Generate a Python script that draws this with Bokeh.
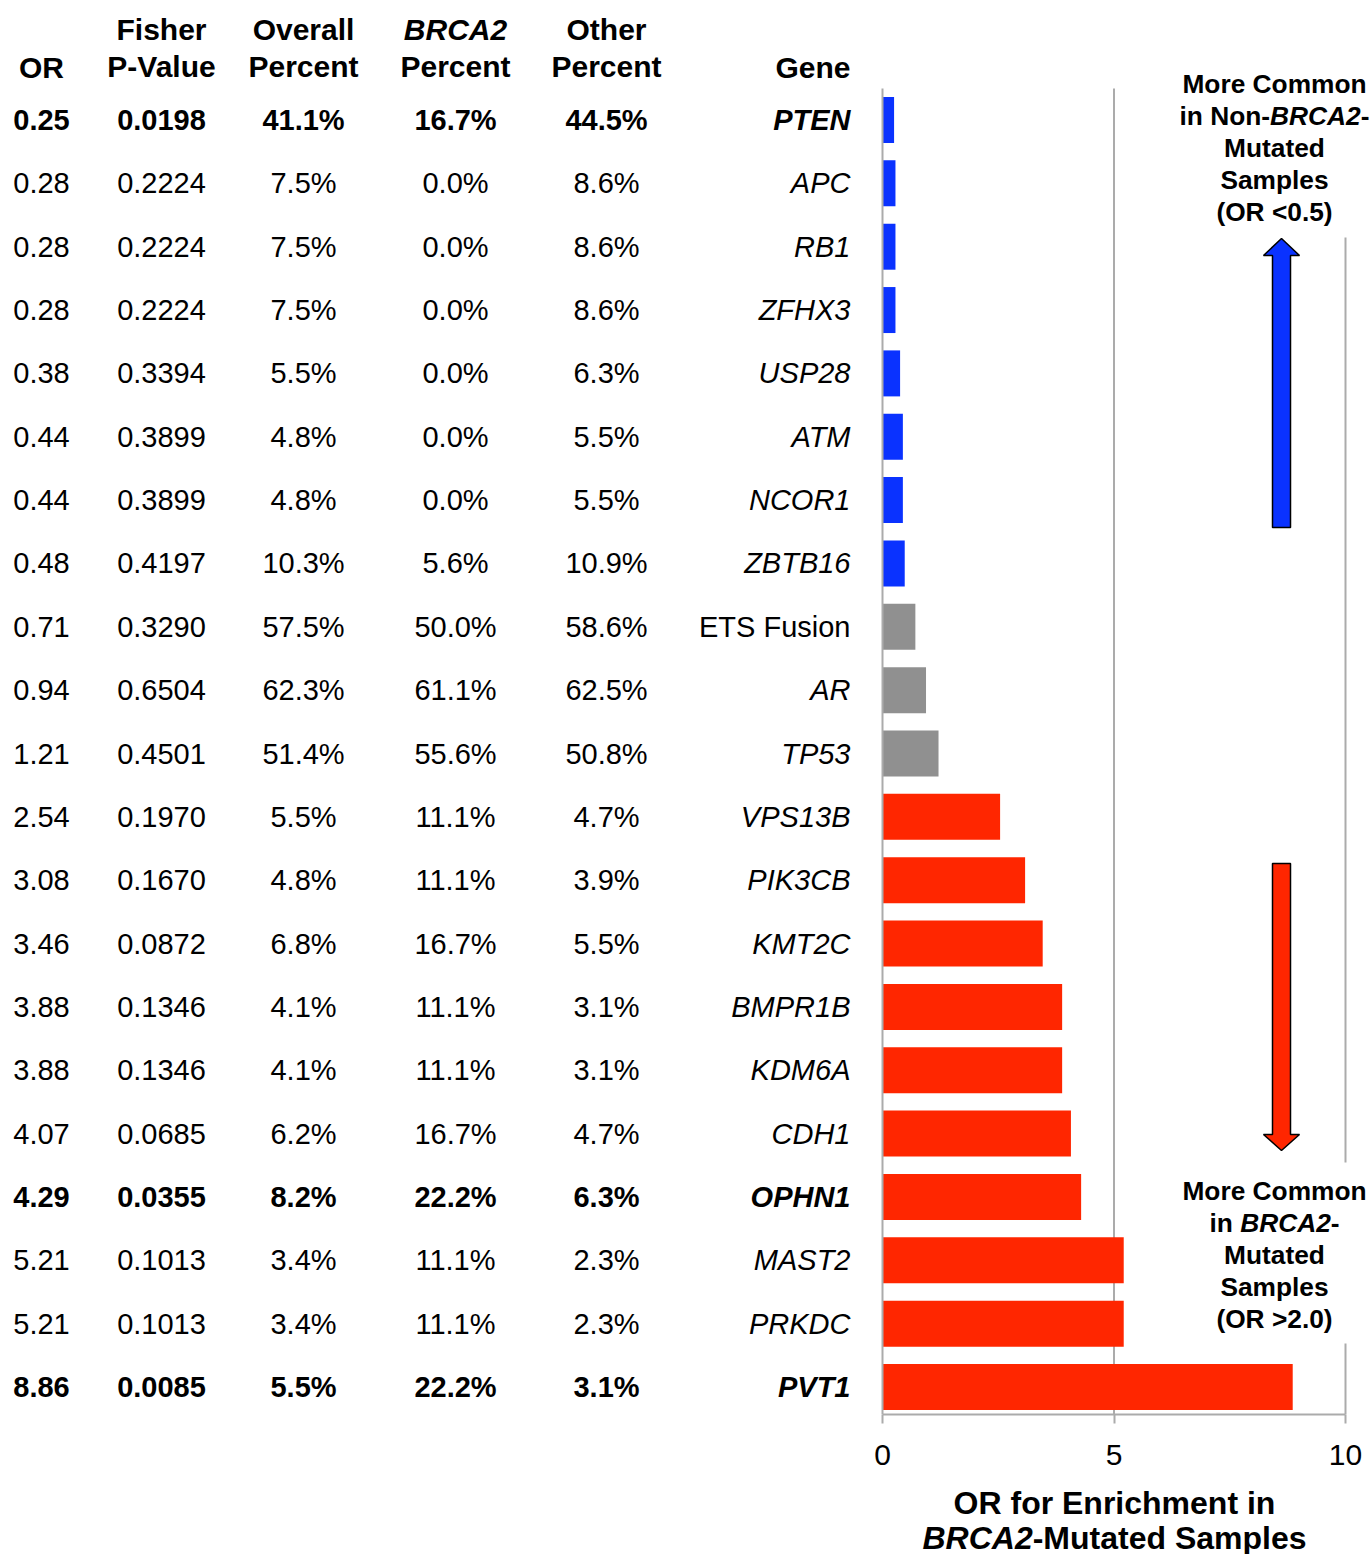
from bokeh.plotting import figure
from bokeh.layouts import column as stack
from bokeh.models import ColumnDataSource, Range1d, LinearAxis, FixedTicker
from bokeh.core.properties import value
from bokeh.embed import file_html
from bokeh.resources import INLINE

# ---- data -------------------------------------------------------------
genes = ["PTEN", "APC", "RB1", "ZFHX3", "USP28", "ATM", "NCOR1", "ZBTB16",
         "ETS Fusion", "AR", "TP53", "VPS13B", "PIK3CB", "KMT2C", "BMPR1B",
         "KDM6A", "CDH1", "OPHN1", "MAST2", "PRKDC", "PVT1"]
odds_ratio = [0.25, 0.28, 0.28, 0.28, 0.38, 0.44, 0.44, 0.48, 0.71, 0.94, 1.21,
              2.54, 3.08, 3.46, 3.88, 3.88, 4.07, 4.29, 5.21, 5.21, 8.86]
fisher_p = ["0.0198", "0.2224", "0.2224", "0.2224", "0.3394", "0.3899", "0.3899",
            "0.4197", "0.3290", "0.6504", "0.4501", "0.1970", "0.1670", "0.0872",
            "0.1346", "0.1346", "0.0685", "0.0355", "0.1013", "0.1013", "0.0085"]
overall_pct = [41.1, 7.5, 7.5, 7.5, 5.5, 4.8, 4.8, 10.3, 57.5, 62.3, 51.4,
               5.5, 4.8, 6.8, 4.1, 4.1, 6.2, 8.2, 3.4, 3.4, 5.5]
brca2_pct = [16.7, 0.0, 0.0, 0.0, 0.0, 0.0, 0.0, 5.6, 50.0, 61.1, 55.6,
             11.1, 11.1, 16.7, 11.1, 11.1, 16.7, 22.2, 11.1, 11.1, 22.2]
other_pct = [44.5, 8.6, 8.6, 8.6, 6.3, 5.5, 5.5, 10.9, 58.6, 62.5, 50.8,
             4.7, 3.9, 5.5, 3.1, 3.1, 4.7, 6.3, 2.3, 2.3, 3.1]
x_ticks = [0, 5, 10]

# ---- styling ----------------------------------------------------------
FONT = "Liberation Sans"
BLUE, RED, GREY = "#0A32FF", "#FF2600", "#909090"
LINE_GREY = "#ABABAB"

W, H = 1370, 1554
MAIN_H = 1482                # height of the chart part; the axis title sits below
FRAME_BOTTOM = 1414          # pixel row of the x axis line
ORIGIN_PX, PX_PER_UNIT = 882, 46.3
ROW0_PX, ROW_STEP = 119.5, 63.35

n = len(genes)
rows = list(range(n))
bold_rows = [float(pv) < 0.05 for pv in fisher_p]
bar_colors = [BLUE if v < 0.5 else (RED if v > 2.0 else GREY) for v in odds_ratio]

p = figure(width=W, height=MAIN_H, output_backend="svg", toolbar_location=None,
           x_axis_type=None, y_axis_type=None,
           x_range=Range1d(-ORIGIN_PX / PX_PER_UNIT, (W - ORIGIN_PX) / PX_PER_UNIT),
           y_range=Range1d((FRAME_BOTTOM - ROW0_PX) / ROW_STEP, -ROW0_PX / ROW_STEP),
           min_border_left=0, min_border_right=0, min_border_top=0,
           min_border_bottom=MAIN_H - FRAME_BOTTOM)
p.outline_line_color = None
p.background_fill_color = "white"
p.border_fill_color = "white"
p.xgrid.visible = False
p.ygrid.visible = False
# pixel-style ranges for the table and the annotations
p.extra_x_ranges = {"px": Range1d(0, W)}
p.extra_y_ranges = {"py": Range1d(FRAME_BOTTOM, 0)}

# ---- grid lines -------------------------------------------------------
p.segment(x0=[5, 10, 10], y0=[88, 237, 1343], x1=[5, 10, 10],
          y1=[FRAME_BOTTOM, 1162, FRAME_BOTTOM],
          y_range_name="py", line_color=LINE_GREY, line_width=2)

# ---- bars -------------------------------------------------------------
bars = ColumnDataSource(dict(y=rows, right=odds_ratio, color=bar_colors))
p.hbar(y="y", left=0, right="right", height=0.726, fill_color="color",
       line_color=None, source=bars)
p.segment(x0=[0], y0=[88], x1=[0], y1=[FRAME_BOTTOM], y_range_name="py",
          line_color=LINE_GREY, line_width=2)

# ---- x axis -----------------------------------------------------------
ax = LinearAxis(bounds=(0, 10), ticker=FixedTicker(ticks=x_ticks))
ax.axis_line_color = LINE_GREY
ax.axis_line_width = 2
ax.major_tick_line_color = LINE_GREY
ax.major_tick_line_width = 2
ax.major_tick_out = 9
ax.major_tick_in = 0
ax.minor_tick_line_color = None
ax.major_label_text_font = FONT
ax.major_label_text_font_size = "30px"
ax.major_label_text_color = "black"
ax.major_label_standoff = 21
p.add_layout(ax, "below")

# ---- table ------------------------------------------------------------
TXT = "29px"
HEAD = "30px"


def style(b, italic=False):
    if italic:
        return "bold italic" if b else "italic"
    return "bold" if b else "normal"


def table_column(x, texts, styles, align="center"):
    src = ColumnDataSource(dict(y=rows, text=texts, st=styles))
    p.text(x=x, y="y", text="text", text_font_style="st", source=src,
           x_range_name="px", text_align=align, text_baseline="middle",
           text_font=value(FONT), text_font_size=value(TXT), text_color="black")


plain = [style(b) for b in bold_rows]
table_column(41, [f"{v:.2f}" for v in odds_ratio], plain)
table_column(161, fisher_p, plain)
table_column(303, [f"{v:.1f}%" for v in overall_pct], plain)
table_column(455, [f"{v:.1f}%" for v in brca2_pct], plain)
table_column(606, [f"{v:.1f}%" for v in other_pct], plain)
table_column(850, genes, [style(b, g != "ETS Fusion") for g, b in zip(genes, bold_rows)],
             align="right")

# header
headers = [
    (41, 67, "OR", "bold", "center"),
    (161, 29, "Fisher", "bold", "center"),
    (161, 66, "P-Value", "bold", "center"),
    (303, 29, "Overall", "bold", "center"),
    (303, 66, "Percent", "bold", "center"),
    (455, 29, "BRCA2", "bold italic", "center"),
    (455, 66, "Percent", "bold", "center"),
    (606, 29, "Other", "bold", "center"),
    (606, 66, "Percent", "bold", "center"),
    (850, 67, "Gene", "bold", "right"),
]
for hx, hy, ht, hs, ha in headers:
    p.text(x=[hx], y=[hy], text=[ht], x_range_name="px", y_range_name="py",
           text_font=value(FONT), text_font_size=value(HEAD), text_font_style=hs,
           text_align=ha, text_baseline="middle", text_color="black")

# ---- mixed-style text helpers ------------------------------------------
# Liberation Sans Bold advance widths (1/1000 em); bold italic shares them
BOLD_W = {"i": 278, "n": 611, " ": 278, "N": 722, "o": 611, "-": 333, "B": 722,
          "R": 722, "C": 722, "A": 722, "2": 556, "M": 833, "u": 611, "t": 333,
          "a": 556, "e": 556, "d": 611, "S": 667, "m": 889, "p": 611, "l": 278,
          "s": 556, "O": 778, "f": 333, "r": 389, "E": 667, "c": 556, "h": 611,
          "(": 333, ")": 333, "<": 584, ">": 584, "0": 556, ".": 278, "5": 556}


def text_width(s, size):
    return sum(BOLD_W.get(ch, 556) for ch in s) * size / 1000.0


def rich_line(fig, cx, y, parts, size):
    total = sum(text_width(t, size) for t, _ in parts)
    x = cx - total / 2
    extra = dict(x_range_name="px", y_range_name="py") if fig is p else {}
    for t, st in parts:
        fig.text(x=[x], y=[y], text=[t], text_font=value(FONT),
                 text_font_size=value(f"{size}px"), text_font_style=st,
                 text_align="left", text_baseline="middle", text_color="black",
                 **extra)
        x += text_width(t, size)


# ---- side annotations -------------------------------------------------
ANN = 26.3
upper = [
    [("More Common", "bold")],
    [("in Non-", "bold"), ("BRCA2", "bold italic"), ("-", "bold")],
    [("Mutated", "bold")],
    [("Samples", "bold")],
    [("(OR <0.5)", "bold")],
]
lower = [
    [("More Common", "bold")],
    [("in ", "bold"), ("BRCA2", "bold italic"), ("-", "bold")],
    [("Mutated", "bold")],
    [("Samples", "bold")],
    [("(OR >2.0)", "bold")],
]
for i, parts in enumerate(upper):
    rich_line(p, 1274, 83 + 32 * i, parts, ANN)
for i, parts in enumerate(lower):
    rich_line(p, 1274, 1190 + 32 * i, parts, ANN)


def block_arrow(xc, y_tail, y_tip, shaft_w=18, head_w=36, head_len=17):
    d = 1 if y_tip > y_tail else -1
    yb = y_tip - d * head_len
    xs = [xc - shaft_w / 2, xc - shaft_w / 2, xc - head_w / 2, xc,
          xc + head_w / 2, xc + shaft_w / 2, xc + shaft_w / 2]
    ys = [y_tail, yb, yb, y_tip, yb, yb, y_tail]
    return xs, ys


bx, by = block_arrow(1281, 527, 238)
rx, ry = block_arrow(1281, 863, 1150, head_len=16)
p.patches(xs=[bx, rx], ys=[by, ry], fill_color=[BLUE, RED], line_color="black",
          line_width=1.5, x_range_name="px", y_range_name="py")

# ---- x axis title (own strip below the chart) ------------------------
t = figure(width=W, height=H - MAIN_H, output_backend="svg", toolbar_location=None,
           x_axis_type=None, y_axis_type=None,
           x_range=Range1d(0, W), y_range=Range1d(H, MAIN_H),
           min_border=0)
t.outline_line_color = None
t.xgrid.visible = False
t.ygrid.visible = False
TITLE = 32
rich_line(t, 1114, 1502, [("OR for Enrichment in", "bold")], TITLE)
rich_line(t, 1114, 1537, [("BRCA2", "bold italic"), ("-Mutated Samples", "bold")], TITLE)

layout = stack(p, t, spacing=0)
open("out.html", "w").write(file_html(layout, INLINE))
